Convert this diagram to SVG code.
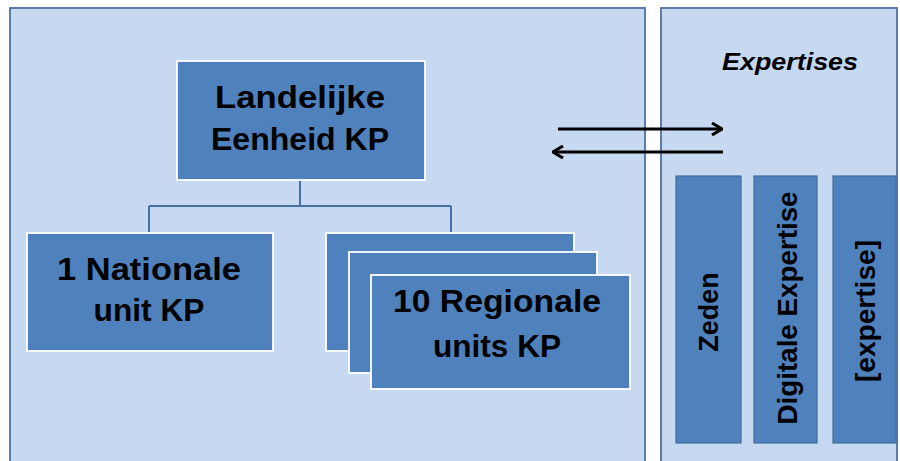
<svg xmlns="http://www.w3.org/2000/svg" width="900" height="461" viewBox="0 0 900 461">
<style>
.panel{fill:#C6D9F0;stroke:#4F6F9E;stroke-width:1.8}
.box{fill:#4F81BD;stroke:#FFFFFF;stroke-width:1.8}
.vbox{fill:#4F81BD;stroke:#3F6D9E;stroke-width:1.2}
.t{font-family:"Liberation Sans",Arial,sans-serif;font-weight:bold;font-size:32px;fill:#000;text-anchor:middle}
.vt{font-family:"Liberation Sans",Arial,sans-serif;font-weight:bold;font-size:27px;fill:#000;text-anchor:middle}
.conn{fill:none;stroke:#46709E;stroke-width:2}
.arr{fill:none;stroke:#000;stroke-width:3}
</style>
<defs>
<marker id="ah" viewBox="0 0 12 14" refX="11" refY="7" markerWidth="12" markerHeight="14" markerUnits="userSpaceOnUse" orient="auto">
<path d="M1,1 L11,7 L1,13" fill="none" stroke="#000" stroke-width="3"/>
</marker>
</defs>
<rect width="900" height="461" fill="#FFFFFF"/>
<g id="panel-left"><rect class="panel" x="10" y="8" width="635" height="470"/></g>
<g id="panel-right"><rect class="panel" x="661" y="8" width="236" height="470"/>
<text x="790" y="70" class="t" style="font-style:italic;font-size:24px" textLength="136" lengthAdjust="spacingAndGlyphs">Expertises</text></g>
<g id="connectors">
<path class="conn" d="M300,180 V206 M149,206 H451 M149,206 V233 M451,206 V233"/>
<line class="arr" x1="558" y1="129" x2="722" y2="129" marker-end="url(#ah)"/>
<line class="arr" x1="723" y1="152" x2="553" y2="152" marker-end="url(#ah)"/>
</g>
<g id="node-landelijke">
<rect class="box" x="177" y="61" width="248" height="119"/>
<text class="t" x="300" y="108" textLength="170" lengthAdjust="spacingAndGlyphs">Landelijke</text>
<text class="t" x="300" y="150" textLength="178" lengthAdjust="spacingAndGlyphs">Eenheid KP</text>
</g>
<g id="node-nationale">
<rect class="box" x="27" y="233" width="246" height="118"/>
<text class="t" x="149" y="280" textLength="184" lengthAdjust="spacingAndGlyphs">1 Nationale</text>
<text class="t" x="149" y="321" textLength="111" lengthAdjust="spacingAndGlyphs">unit KP</text>
</g>
<g id="node-regionale">
<rect class="box" x="326" y="233" width="248" height="118"/>
<rect class="box" x="349" y="252" width="248" height="121"/>
<rect class="box" x="371" y="275" width="259" height="114"/>
<text class="t" x="497" y="312" textLength="208" lengthAdjust="spacingAndGlyphs">10 Regionale</text>
<text class="t" x="497" y="357" textLength="128" lengthAdjust="spacingAndGlyphs">units KP</text>
</g>
<g id="node-zeden">
<rect class="vbox" x="676" y="176" width="65" height="267"/>
<text class="vt" transform="translate(718,312) rotate(-90)">Zeden</text>
</g>
<g id="node-digitale">
<rect class="vbox" x="754" y="176" width="63" height="267"/>
<text class="vt" transform="translate(797,308) rotate(-90)" textLength="233" lengthAdjust="spacingAndGlyphs">Digitale Expertise</text>
</g>
<g id="node-expertise">
<rect class="vbox" x="833" y="176" width="63" height="267"/>
<text class="vt" transform="translate(875,311) rotate(-90)" textLength="142" lengthAdjust="spacingAndGlyphs">[expertise]</text>
</g>
</svg>
